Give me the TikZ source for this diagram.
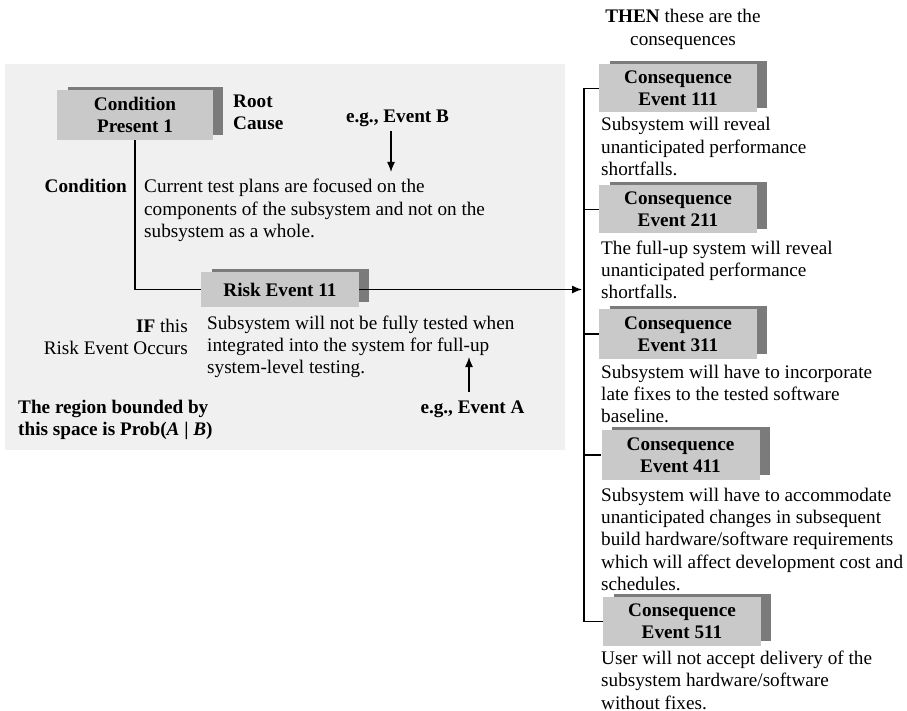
\documentclass[tikz,border=0pt]{standalone}
\usepackage{fontspec}
\setmainfont{Liberation Serif}
\usetikzlibrary{arrows.meta,calc,backgrounds}
\definecolor{panelgray}{HTML}{F0F0F0}
\definecolor{boxgray}{HTML}{C9C9C9}
\definecolor{shadegray}{HTML}{7B7B7B}
\tikzset{
  txt/.style={font=\fontsize{19.2}{22.4}\selectfont, inner sep=0pt, align=left},
  btxt/.style={txt, font=\fontsize{19.2}{22.4}\selectfont\bfseries},
  box/.style={btxt, fill=boxgray, align=center, minimum width=158pt, minimum height=48pt},
  link/.style={line width=1.3pt},
  arr/.style={link, -{Latex[length=10pt,width=8pt]}},
  shade/.style={fill=shadegray},
}
\begin{document}
\begin{tikzpicture}[x=1pt,y=-1pt]
\useasboundingbox (0,0) rectangle (907,711);

% shaded event boxes
\node[box, minimum width=156pt, minimum height=50pt] (cond) at (135,115) {Condition\\Present 1};
\node[box, minimum height=35pt] (risk) at (280,289.5) {Risk Event 11};
\node[box] (c1) at (678,88.5) {Consequence\\Event 111};
\node[box] (c2) at (678,209.5) {Consequence\\Event 211};
\node[box, minimum height=50pt] (c3) at (678,334) {Consequence\\Event 311};
\node[box, minimum height=50pt] (c4) at (680.5,455) {Consequence\\Event 411};
\node[box, minimum height=49pt] (c5) at (682,621.5) {Consequence\\Event 511};

% labels on the left panel (base anchors sit on the last line)
\node[btxt, anchor=base west] (root) at (233,129.5) {Root\\Cause};
\node[btxt, anchor=base] (evB) at (397.5,123) {e.g., Event B};
\node[btxt, anchor=base east] (condlbl) at (127,193) {Condition};
\node[txt, anchor=base west] (condtext) at (144,237.8)
  {Current test plans are focused on the\\components of the subsystem and not on the\\subsystem as a whole.};
\node[txt, anchor=base east, align=right] (iflbl) at (188,354.4) {\textbf{IF} this\\Risk Event Occurs};
\node[txt, anchor=base west] (risktext) at (207,373.8)
  {Subsystem will not be fully tested when\\integrated into the system for full-up\\system-level testing.};
\node[btxt, anchor=base] (evA) at (472.5,413) {e.g., Event A};
\node[btxt, anchor=base west] (region) at (18,435.4)
  {The region bounded by\\this space is Prob(\textit{A} | \textit{B})};

% consequences column
\node[txt, anchor=base, align=center] (then) at (683,45.4) {\textbf{THEN} these are the\\consequences};
\node[txt, anchor=base west] (t1) at (601,175.8) {Subsystem will reveal\\unanticipated performance\\shortfalls.};
\node[txt, anchor=base west] (t2) at (601,298.8) {The full-up system will reveal\\unanticipated performance\\shortfalls.};
\node[txt, anchor=base west] (t3) at (601,422.8) {Subsystem will have to incorporate\\late fixes to the tested software\\baseline.};
\node[txt, anchor=base west] (t4) at (601,590.6) {Subsystem will have to accommodate\\unanticipated changes in subsequent\\build hardware/software requirements\\which will affect development cost and\\schedules.};
\node[txt, anchor=base west] (t5) at (601,709) {User will not accept delivery of the\\subsystem hardware/software\\without fixes.};

% connectors
\coordinate (bus) at (584,0);
\coordinate (evBtip) at (391,172);
\coordinate (evAtip) at (469,357);
\draw[link] (cond.south) |- (risk.west);
\draw[arr, shorten >=2pt] (risk.east) -- (risk.east -| bus);
\draw[link] (c1.west) -- (c1.west -| bus) -- (c5.west -| bus) -- (c5.west);
\draw[link] (c2.west) -- (c2.west -| bus);
\draw[link] (c3.west) -- (c3.west -| bus);
\draw[link] (c4.west) -- (c4.west -| bus);
\draw[arr, shorten <=4pt] (evBtip |- evB.south) -- (evBtip);
\draw[arr, shorten <=8pt] (evAtip |- evA.north) -- (evAtip);

% panel and box shadows
\begin{pgfonlayer}{background}
  \fill[panelgray] (5,64) rectangle (565,450);
  \foreach \b in {cond,risk,c1,c2,c3,c4,c5}
    \fill[shade] ($(\b.north west)+(11,-3)$) rectangle ($(\b.south east)+(10,-5)$);
\end{pgfonlayer}
\end{tikzpicture}
\end{document}
